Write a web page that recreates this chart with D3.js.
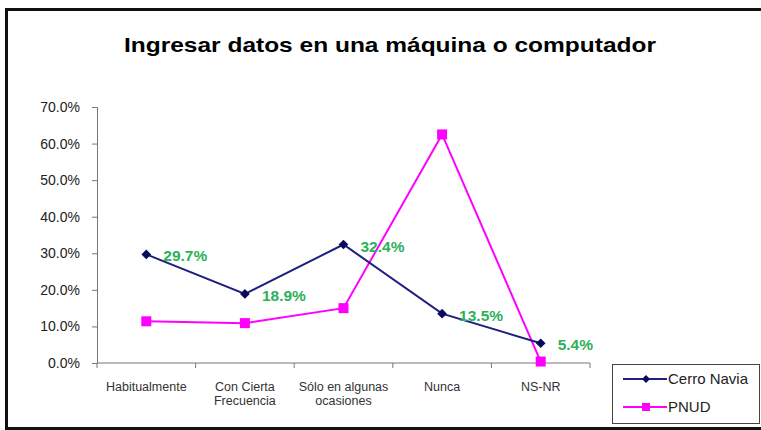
<!DOCTYPE html>
<html>
<head>
<meta charset="utf-8">
<script src="https://cdn.jsdelivr.net/npm/d3@7"></script>
<style>
  body { margin: 0; background: #fff; }
  svg { display: block; font-family: "Liberation Sans", Arial, sans-serif; }
</style>
</head>
<body>
<div id="chart"></div>
<script>
const categories = [["Habitualmente"], ["Con Cierta", "Frecuencia"], ["Sólo en algunas", "ocasiones"], ["Nunca"], ["NS-NR"]];
const cerroNavia = [0.297, 0.189, 0.324, 0.135, 0.054];
const pnud = [0.114, 0.109, 0.150, 0.625, 0.004];
const yTicks = [0, 0.1, 0.2, 0.3, 0.4, 0.5, 0.6, 0.7];
const seriesNames = ["Cerro Navia", "PNUD"];

const width = 761, height = 430;
const margin = { top: 107, left: 97, right: 171, bottom: 67 };

const svg = d3.select("#chart").append("svg")
    .attr("width", width)
    .attr("height", height);

// outer frame, right side runs off the picture
svg.append("rect")
    .attr("x", 6.5).attr("y", 9.5)
    .attr("width", 780).attr("height", 419)
    .attr("fill", "none")
    .attr("stroke", "#111")
    .attr("stroke-width", 3);

svg.append("text")
    .attr("x", 124).attr("y", 52)
    .attr("font-size", 21)
    .attr("font-weight", "bold")
    .attr("textLength", 532)
    .attr("lengthAdjust", "spacingAndGlyphs")
    .attr("fill", "#000")
    .text("Ingresar datos en una máquina o computador");

const x = d3.scaleBand()
    .domain(d3.range(categories.length))
    .range([margin.left, width - margin.right]);

const y = d3.scaleLinear()
    .domain([0, 0.7])
    .range([height - margin.bottom, margin.top]);

// y axis
const yAxis = svg.append("g")
    .attr("transform", `translate(${margin.left},0)`)
    .call(d3.axisLeft(y).tickValues(yTicks).tickFormat(d3.format(".1%")).tickSizeOuter(0).tickSize(5));
yAxis.select(".domain").attr("stroke", "#777");
yAxis.selectAll(".tick line").attr("stroke", "#777");
yAxis.selectAll(".tick text")
    .attr("font-size", 14)
    .attr("fill", "#222")
    .attr("x", -17)
    .attr("font-family", "Liberation Sans, Arial, sans-serif");

// x axis
const xAxis = svg.append("g")
    .attr("transform", `translate(0,${height - margin.bottom})`);
xAxis.append("line")
    .attr("x1", margin.left).attr("x2", width - margin.right)
    .attr("stroke", "#777");
const edges = d3.range(categories.length + 1).map(i => i < categories.length ? x(i) : x(i - 1) + x.bandwidth());
xAxis.selectAll(".xt").data(edges).join("line")
    .attr("x1", d => d).attr("x2", d => d)
    .attr("y1", 0).attr("y2", 5)
    .attr("stroke", "#777");

const cx = i => x(i) + x.bandwidth() / 2;

xAxis.selectAll(".xl").data(categories).join("text")
    .attr("text-anchor", "middle")
    .attr("font-size", 12.5)
    .attr("fill", "#333")
    .each(function(d, i) {
        d3.select(this).selectAll("tspan").data(d).join("tspan")
            .attr("x", cx(i))
            .attr("y", (t, j) => 28 + j * 13.5)
            .text(t => t);
    });

const line = d3.line().x((d, i) => cx(i)).y(d => y(d));

// PNUD
svg.append("path")
    .datum(pnud)
    .attr("d", line)
    .attr("fill", "none")
    .attr("stroke", "#ff00ff")
    .attr("stroke-width", 2);

// Cerro Navia
svg.append("path")
    .datum(cerroNavia)
    .attr("d", line)
    .attr("fill", "none")
    .attr("stroke", "#1f1f80")
    .attr("stroke-width", 2);

svg.selectAll(".sq").data(pnud).join("rect")
    .attr("x", (d, i) => cx(i) - 5)
    .attr("y", d => y(d) - 5)
    .attr("width", 10).attr("height", 10)
    .attr("fill", "#ff00ff");

const diamond = d3.symbol().type(d3.symbolDiamond2).size(60);
svg.selectAll(".dm").data(cerroNavia).join("path")
    .attr("d", diamond)
    .attr("transform", (d, i) => `translate(${cx(i)},${y(d)})`)
    .attr("fill", "#0a0a5a");

svg.selectAll(".lbl").data(cerroNavia).join("text")
    .attr("x", (d, i) => cx(i) + 17)
    .attr("y", d => y(d) + 7)
    .attr("font-size", 15.5)
    .attr("font-weight", "bold")
    .attr("fill", "#2cb15a")
    .text(d => d3.format(".1%")(d));

// legend
const lg = svg.append("g").attr("transform", "translate(612,362)");
lg.append("rect")
    .attr("x", 0.5).attr("y", 2.5)
    .attr("width", 147).attr("height", 59)
    .attr("fill", "#fff")
    .attr("stroke", "#444");
const legendColors = ["#1f1f80", "#ff00ff"];
seriesNames.forEach((name, i) => {
    const ly = 17 + i * 28;
    lg.append("line")
        .attr("x1", 11).attr("x2", 55)
        .attr("y1", ly).attr("y2", ly)
        .attr("stroke", legendColors[i])
        .attr("stroke-width", 2);
    if (i === 0) {
        lg.append("path")
            .attr("d", d3.symbol().type(d3.symbolDiamond2).size(40))
            .attr("transform", `translate(34,${ly})`)
            .attr("fill", "#0a0a5a");
    } else {
        lg.append("rect")
            .attr("x", 30).attr("y", ly - 4)
            .attr("width", 8).attr("height", 8)
            .attr("fill", "#ff00ff");
    }
    lg.append("text")
        .attr("x", 56).attr("y", ly + 5)
        .attr("font-size", 15)
        .attr("fill", "#222")
        .text(name);
});
</script>
</body>
</html>
